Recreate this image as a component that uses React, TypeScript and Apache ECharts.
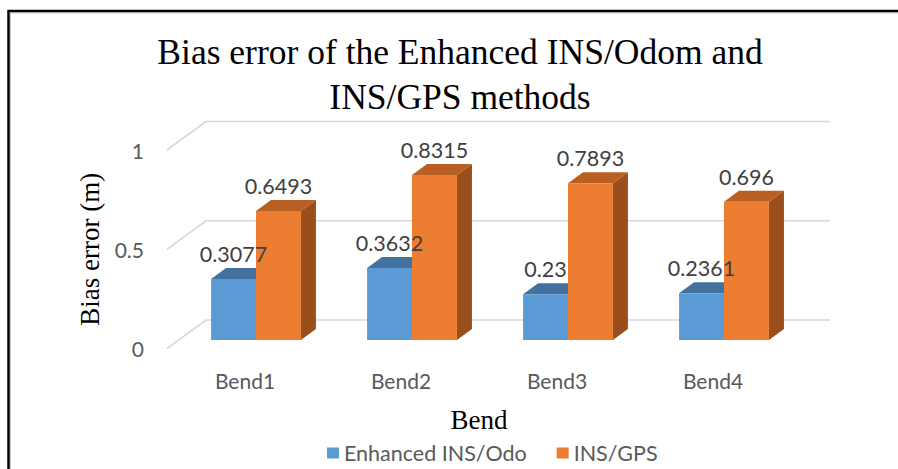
import React, { useEffect, useRef } from "react";
import * as echarts from "echarts";

const categories = ["Bend1", "Bend2", "Bend3", "Bend4"];
const enhancedOdo = [0.3077, 0.3632, 0.23, 0.2361];
const insGps = [0.6493, 0.8315, 0.7893, 0.696];
const yTicks = [0, 0.5, 1];
const seriesNames = ["Enhanced INS/Odo", "INS/GPS"];
const titleLines = ["Bias error of the Enhanced INS/Odom and", "INS/GPS methods"];

const WALL_DX = 39;
const WALL_DY = -28.5;
const BAR_DX = 11;
const BAR_DY = -8.5;
const DEPTH_DX = 15;
const DEPTH_DY = -11;
const BAR_RATIO = 0.288;

const palettes = [
  { front: "#5B9BD5", top: "#41719C", side: "#3A6A94" },
  { front: "#ED7D31", top: "#BA5F22", side: "#9A4E1C" },
];

const LABEL_FONT = "Lato";
const SERIF = "Liberation Serif";

function barGeom(api: any, k: number) {
  const idx = api.value(0);
  const v = api.value(1);
  const band = api.size([1, 0])[0];
  const w = band * BAR_RATIO;
  const base = api.coord([idx, 0]);
  const top = api.coord([idx, v]);
  const x0 = base[0] + BAR_DX + (k === 0 ? -w : 0);
  const x1 = x0 + w;
  const yb = base[1] + BAR_DY;
  const yt = top[1] + BAR_DY;
  return { v, x0, x1, yb, yt, w };
}

function barRenderer(k: number) {
  return (_params: any, api: any) => {
    const { x0, x1, yb, yt, w } = barGeom(api, k);
    const p = palettes[k];
    return {
      type: "group",
      children: [
        {
          type: "polygon",
          shape: {
            points: [
              [x1, yb],
              [x1 + DEPTH_DX, yb + DEPTH_DY],
              [x1 + DEPTH_DX, yt + DEPTH_DY],
              [x1, yt],
            ],
          },
          style: { fill: p.side },
        },
        {
          type: "polygon",
          shape: {
            points: [
              [x0, yt],
              [x1, yt],
              [x1 + DEPTH_DX, yt + DEPTH_DY],
              [x0 + DEPTH_DX, yt + DEPTH_DY],
            ],
          },
          style: { fill: p.top },
        },
        {
          type: "rect",
          shape: { x: x0, y: yt, width: w, height: yb - yt },
          style: { fill: p.front },
        },
      ],
    };
  };
}

function labelRenderer(k: number) {
  return (_params: any, api: any) => {
    const { v, x0, x1, yt } = barGeom(api, k);
    return {
      type: "text",
      style: {
        text: String(v),
        x: (x0 + x1) / 2,
        y: yt - 25,
        align: "center",
        verticalAlign: "middle",
        fill: "#404040",
        fontSize: 21.5,
        fontFamily: LABEL_FONT,
      },
    };
  };
}

function wallRenderer(_params: any, api: any) {
  const v = api.value(1);
  const band = api.size([1, 0])[0];
  const l = api.coord([0, v]);
  const r = api.coord([categories.length - 1, v]);
  const xl = l[0] - band / 2;
  const xr = r[0] + band / 2;
  const y = l[1];
  return {
    type: "polyline",
    shape: {
      points: [
        [xl, y],
        [xl + WALL_DX, y + WALL_DY],
        [xr + WALL_DX, y + WALL_DY],
      ],
    },
    style: { stroke: "#D9D9D9", lineWidth: 1.6, fill: null },
  };
}

export default function App() {
  const ref = useRef<HTMLDivElement>(null);
  useEffect(() => {
    if (!ref.current) return;
    const chart = echarts.init(ref.current, null, { renderer: "svg" });
    chart.setOption({
      animation: false,
      backgroundColor: "#ffffff",
      grid: { left: 167, right: 107, top: 150, bottom: 120.5 },
      xAxis: {
        type: "category",
        data: categories,
        axisLine: { show: false },
        axisTick: { show: false },
        axisLabel: { margin: 21, color: "#595959", fontSize: 21, fontFamily: LABEL_FONT },
        name: "Bend",
        nameLocation: "middle",
        nameGap: 58,
        nameTextStyle: { color: "#000", fontSize: 27, fontFamily: SERIF },
      },
      yAxis: {
        type: "value",
        min: 0,
        max: 1,
        interval: 0.5,
        axisLine: { show: false },
        axisTick: { show: false },
        splitLine: { show: false },
        axisLabel: { margin: 23, color: "#595959", fontSize: 21, fontFamily: LABEL_FONT },
        name: "Bias error (m)",
        nameLocation: "middle",
        nameRotate: 90,
        nameGap: 63,
        nameTextStyle: { color: "#000", fontSize: 27, fontFamily: SERIF },
      },
      legend: {
        data: seriesNames,
        left: 322,
        top: 437,
        icon: "rect",
        itemWidth: 12,
        itemHeight: 11,
        itemGap: 30,
        textStyle: { color: "#595959", fontSize: 21.5, fontFamily: LABEL_FONT },
      },
      graphic: [
        {
          type: "polyline",
          shape: { points: [[10.5, 469], [10.5, 13], [898, 13]] },
          style: { stroke: "#c8c8c8", lineWidth: 1, fill: null },
          z: 10,
        },
        {
          type: "polyline",
          shape: { points: [[8.5, 469], [8.5, 11], [898, 11]] },
          style: { stroke: "#000", lineWidth: 2.5, fill: null },
          z: 11,
        },
        {
          type: "text",
          x: 460,
          y: 52,
          style: {
            text: titleLines[0],
            align: "center",
            verticalAlign: "middle",
            fill: "#000",
            fontSize: 35.5,
            fontFamily: SERIF,
          },
        },
        {
          type: "text",
          x: 460,
          y: 97,
          style: {
            text: titleLines[1],
            align: "center",
            verticalAlign: "middle",
            fill: "#000",
            fontSize: 35.5,
            fontFamily: SERIF,
          },
        },
      ],
      series: [
        {
          type: "custom",
          silent: true,
          renderItem: wallRenderer,
          data: yTicks.map((v) => [0, v]),
          encode: { x: 0, y: 1 },
          z: 1,
        },
        {
          type: "custom",
          name: seriesNames[0],
          renderItem: barRenderer(0),
          itemStyle: { color: palettes[0].front },
          data: enhancedOdo.map((v, i) => [i, v]),
          encode: { x: 0, y: 1 },
          z: 2,
        },
        {
          type: "custom",
          name: seriesNames[1],
          renderItem: barRenderer(1),
          itemStyle: { color: palettes[1].front },
          data: insGps.map((v, i) => [i, v]),
          encode: { x: 0, y: 1 },
          z: 3,
        },
        {
          type: "custom",
          silent: true,
          renderItem: labelRenderer(0),
          data: enhancedOdo.map((v, i) => [i, v]),
          encode: { x: 0, y: 1 },
          z: 5,
        },
        {
          type: "custom",
          silent: true,
          renderItem: labelRenderer(1),
          data: insGps.map((v, i) => [i, v]),
          encode: { x: 0, y: 1 },
          z: 5,
        },
      ],
    });
    return () => chart.dispose();
  }, []);
  return (
    <div
      ref={ref}
      style={{ position: "absolute", left: 0, top: 0, width: 898, height: 469, background: "#fff" }}
    />
  );
}
